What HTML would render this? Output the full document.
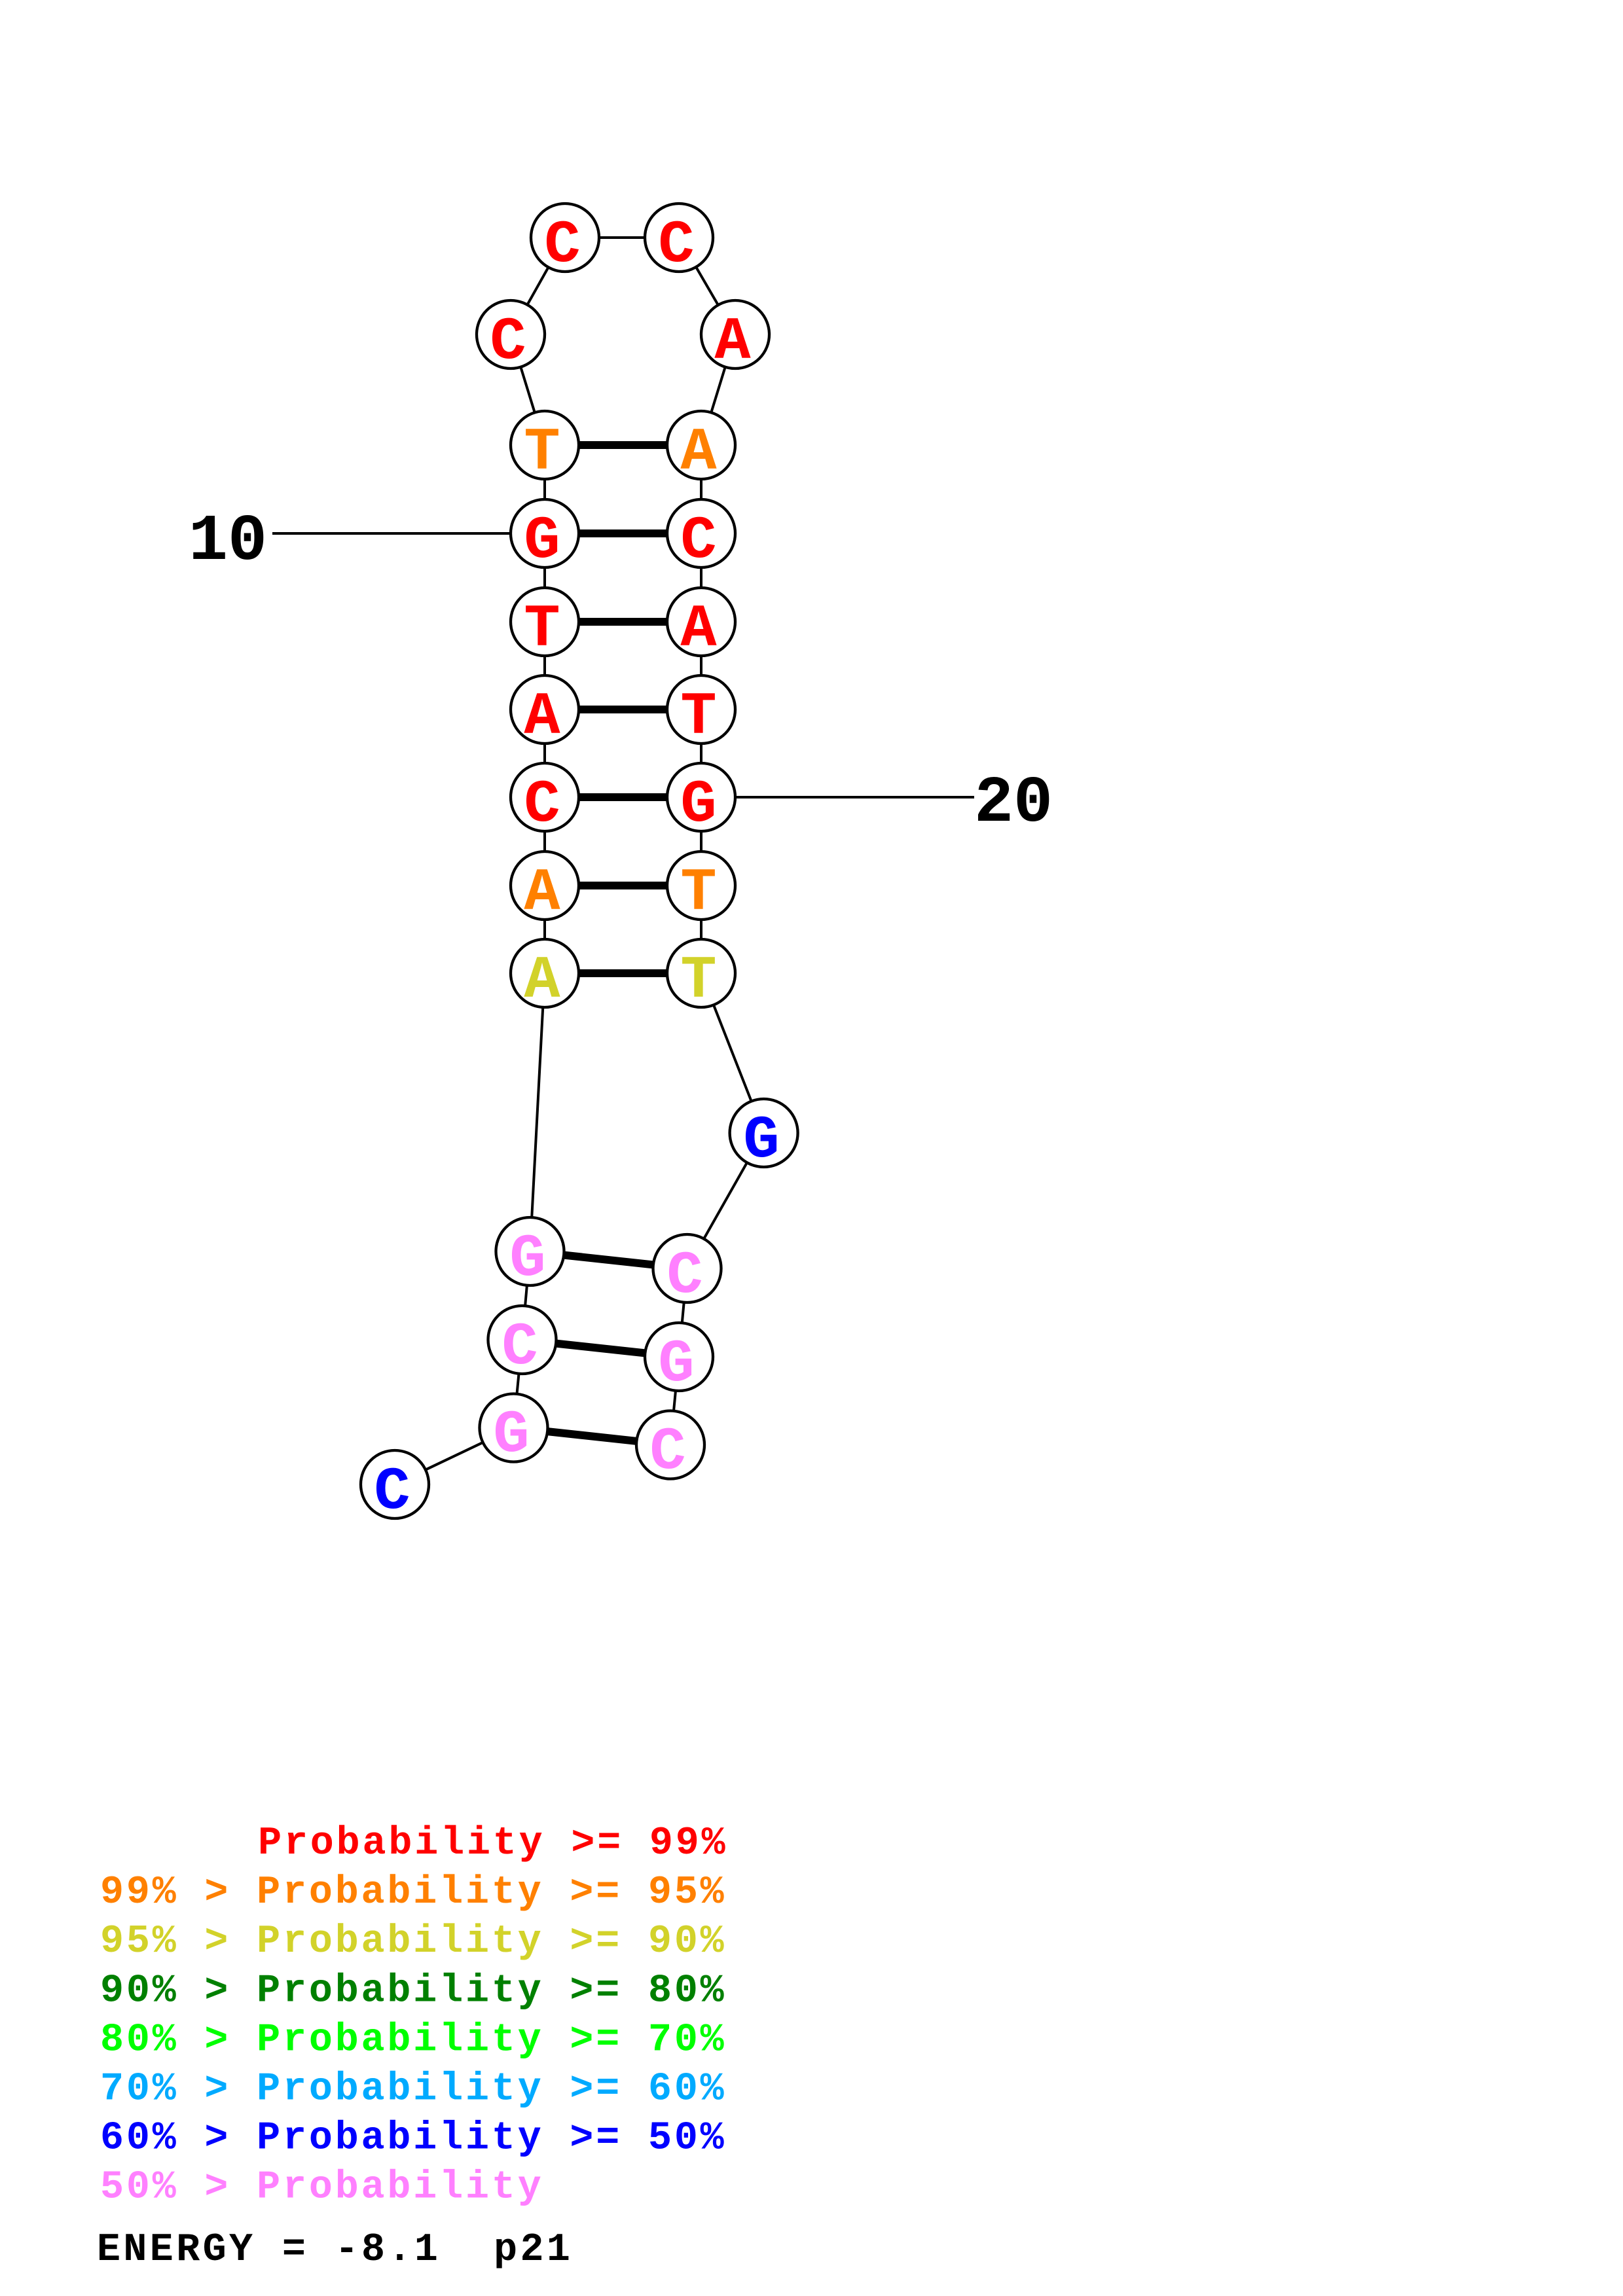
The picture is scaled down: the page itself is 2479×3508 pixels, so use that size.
<!DOCTYPE html>
<html>
<head>
<meta charset="utf-8">
<style>
html,body{margin:0;padding:0;background:#fff;}
svg{display:block;}
.nt{font-family:"Liberation Mono",monospace;font-weight:bold;font-size:92px;text-anchor:middle;}
.num{font-family:"Liberation Mono",monospace;font-weight:bold;font-size:100px;fill:#000;}
.lg{font-family:"Liberation Mono",monospace;font-weight:bold;font-size:60px;letter-spacing:3.85px;white-space:pre;}
.en{font-family:"Liberation Mono",monospace;font-weight:bold;font-size:60px;letter-spacing:4.4px;white-space:pre;}
</style>
</head>
<body>
<svg width="2479" height="3508" viewBox="0 0 2479 3508" xmlns="http://www.w3.org/2000/svg">
<rect width="2479" height="3508" fill="#fff"/>
<!-- label lines -->
<line x1="416" y1="815" x2="832" y2="815" stroke="#000" stroke-width="4"/>
<line x1="1071" y1="1218" x2="1488" y2="1218" stroke="#000" stroke-width="4"/>
<!-- backbone -->
<polyline fill="none" stroke="#000" stroke-width="4" points="603,2268 784.5,2181.5 797.5,2047 809.5,1912 832,1487 832,1353 832,1218 832,1084 832,950 832,815 832,680 780,511 863,363 1037,363 1123,511 1071,680 1071,815 1071,950 1071,1084 1071,1218 1071,1353 1071,1487 1166.6,1731 1049.5,1938 1037,2073 1024,2207.5"/>
<!-- pairs -->
<g stroke="#000" stroke-width="12">
<line x1="832" y1="680" x2="1071" y2="680"/>
<line x1="832" y1="815" x2="1071" y2="815"/>
<line x1="832" y1="950" x2="1071" y2="950"/>
<line x1="832" y1="1084" x2="1071" y2="1084"/>
<line x1="832" y1="1218" x2="1071" y2="1218"/>
<line x1="832" y1="1353" x2="1071" y2="1353"/>
<line x1="832" y1="1487" x2="1071" y2="1487"/>
<line x1="809.5" y1="1912" x2="1049.5" y2="1938"/>
<line x1="797.5" y1="2047" x2="1037" y2="2073"/>
<line x1="784.5" y1="2181.5" x2="1024" y2="2207.5"/>
</g>
<!-- circles -->
<g fill="#fff" stroke="#000" stroke-width="4.3">
<circle cx="603" cy="2268" r="52"/>
<circle cx="784.5" cy="2181.5" r="52"/>
<circle cx="797.5" cy="2047" r="52"/>
<circle cx="809.5" cy="1912" r="52"/>
<circle cx="832" cy="1487" r="52"/>
<circle cx="832" cy="1353" r="52"/>
<circle cx="832" cy="1218" r="52"/>
<circle cx="832" cy="1084" r="52"/>
<circle cx="832" cy="950" r="52"/>
<circle cx="832" cy="815" r="52"/>
<circle cx="832" cy="680" r="52"/>
<circle cx="780" cy="511" r="52"/>
<circle cx="863" cy="363" r="52"/>
<circle cx="1037" cy="363" r="52"/>
<circle cx="1123" cy="511" r="52"/>
<circle cx="1071" cy="680" r="52"/>
<circle cx="1071" cy="815" r="52"/>
<circle cx="1071" cy="950" r="52"/>
<circle cx="1071" cy="1084" r="52"/>
<circle cx="1071" cy="1218" r="52"/>
<circle cx="1071" cy="1353" r="52"/>
<circle cx="1071" cy="1487" r="52"/>
<circle cx="1166.6" cy="1731" r="52"/>
<circle cx="1049.5" cy="1938" r="52"/>
<circle cx="1037" cy="2073" r="52"/>
<circle cx="1024" cy="2207.5" r="52"/>
</g>
<!-- letters -->
<text class="nt" x="599" y="2304" fill="#0000FF">C</text>
<text class="nt" x="781" y="2217" fill="#FF80FF">G</text>
<text class="nt" x="794" y="2083" fill="#FF80FF">C</text>
<text class="nt" x="806" y="1948" fill="#FF80FF">G</text>
<text class="nt" x="828" y="1523" fill="#D2D22A">A</text>
<text class="nt" x="828" y="1389" fill="#FF8000">A</text>
<text class="nt" x="828" y="1254" fill="#FF0000">C</text>
<text class="nt" x="828" y="1120" fill="#FF0000">A</text>
<text class="nt" x="828" y="986" fill="#FF0000">T</text>
<text class="nt" x="828" y="851" fill="#FF0000">G</text>
<text class="nt" x="828" y="716" fill="#FF8000">T</text>
<text class="nt" x="776" y="547" fill="#FF0000">C</text>
<text class="nt" x="859" y="399" fill="#FF0000">C</text>
<text class="nt" x="1033" y="399" fill="#FF0000">C</text>
<text class="nt" x="1119" y="547" fill="#FF0000">A</text>
<text class="nt" x="1067" y="716" fill="#FF8000">A</text>
<text class="nt" x="1067" y="851" fill="#FF0000">C</text>
<text class="nt" x="1067" y="986" fill="#FF0000">A</text>
<text class="nt" x="1067" y="1120" fill="#FF0000">T</text>
<text class="nt" x="1067" y="1254" fill="#FF0000">G</text>
<text class="nt" x="1067" y="1389" fill="#FF8000">T</text>
<text class="nt" x="1067" y="1523" fill="#D2D22A">T</text>
<text class="nt" x="1163" y="1767" fill="#0000FF">G</text>
<text class="nt" x="1046" y="1974" fill="#FF80FF">C</text>
<text class="nt" x="1033" y="2109" fill="#FF80FF">G</text>
<text class="nt" x="1020" y="2243" fill="#FF80FF">C</text>
<!-- numbers -->
<text class="num" x="288" y="854">10</text>
<text class="num" x="1488" y="1254">20</text>
<!-- legend -->
<text class="lg" x="394.1" y="2832" fill="#FF0000">Probability &gt;= 99%</text>
<text class="lg" x="153" y="2907" fill="#FF8000">99% &gt; Probability &gt;= 95%</text>
<text class="lg" x="153" y="2982" fill="#D2D22A">95% &gt; Probability &gt;= 90%</text>
<text class="lg" x="153" y="3057.5" fill="#008000">90% &gt; Probability &gt;= 80%</text>
<text class="lg" x="153" y="3132.5" fill="#00FF00">80% &gt; Probability &gt;= 70%</text>
<text class="lg" x="153" y="3207.5" fill="#00AAFF">70% &gt; Probability &gt;= 60%</text>
<text class="lg" x="153" y="3282.5" fill="#0000FF">60% &gt; Probability &gt;= 50%</text>
<text class="lg" x="153" y="3357.5" fill="#FF80FF">50% &gt; Probability</text>
<text class="en" x="148" y="3453" fill="#000">ENERGY = -8.1  p21</text>
</svg>
</body>
</html>
